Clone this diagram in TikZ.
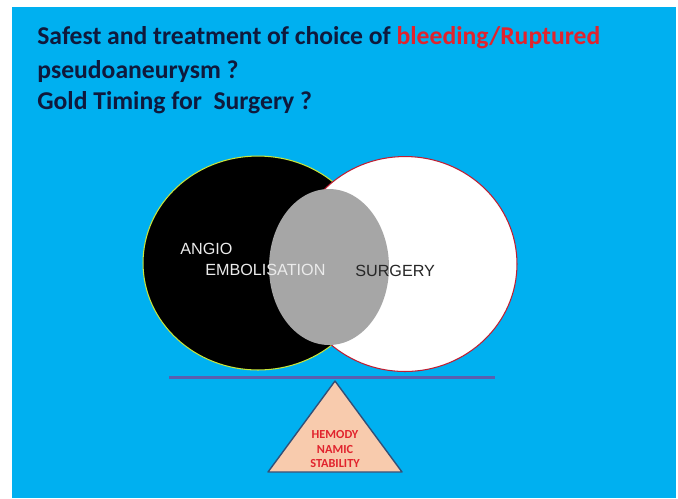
\documentclass[tikz,border=0pt]{standalone}
\usepackage{fontspec}
\setmainfont{Carlito}
\newfontfamily\arialfont{Liberation Sans}
\usetikzlibrary{shapes.geometric}

\definecolor{slideblue}{RGB}{0,176,240}
\definecolor{titleink}{RGB}{15,25,60}
\definecolor{bleedred}{RGB}{225,35,45}
\definecolor{balancebar}{RGB}{90,95,175}
\definecolor{peach}{RGB}{248,203,173}
\definecolor{edgeblue}{RGB}{50,80,120}

\begin{document}
\begin{tikzpicture}[x=0.02cm, y=-0.02cm,
    title/.style={anchor=base west, inner sep=0, text=titleink,
      font=\fontsize{14.6}{17}\selectfont\bfseries},
    venn/.style={ellipse, inner sep=0, line width=0.6pt},
    label/.style={inner sep=0, font=\arialfont\fontsize{9.2}{10}\selectfont}]
  \useasboundingbox (0,0) rectangle (678,498);
  \fill[white] (0,0) rectangle (678,498);
  \fill[slideblue] (12,7) rectangle (676,498);

  % question
  \node[title] (title1) at (37,44) {Safest and treatment of choice of \textcolor{bleedred}{bleeding/Ruptured}};
  \node[title] (title2) at (37,78) {pseudoaneurysm ?};
  \node[title] (title3) at (37,109) {Gold Timing for\ \ Surgery ?};

  % the two options
  \node[venn, draw={rgb,255:red,200;green,230;blue,60}, fill=black,
    minimum width=4.6cm, minimum height=4.28cm] (angio) at (258,263) {};
  \node[venn, draw={rgb,255:red,190;green,30;blue,50}, fill=white,
    minimum width=4.48cm, minimum height=4.3cm] (surgery) at (405,264) {};
  \node[venn, fill={rgb,255:red,166;green,166;blue,166},
    minimum width=2.4cm, minimum height=3.12cm] (overlap) at (329,267) {};

  \node[label, text=white!92!black, anchor=west] (angiotext) at (180,249) {ANGIO};
  \node[label, text=white!92!black, anchor=west] (emboltext) at (205,270) {EMBOLISATION};
  \node[label, text=black!85, anchor=west] (surgerytext) at (355,271) {SURGERY};

  % balance
  \draw[balancebar, line width=1.6pt] (169,377.5) -- (495,377.5);
  \filldraw[fill=peach, draw=edgeblue, line width=0.8pt, line join=round]
    (335,381) -- (402,472) -- (268,472) -- cycle;
  \node[align=center, text=bleedred, inner sep=0,
    font=\fontsize{7}{8.4}\selectfont\bfseries] (stability) at (335,449)
    {HEMODY\\NAMIC\\STABILITY};
\end{tikzpicture}
\end{document}
